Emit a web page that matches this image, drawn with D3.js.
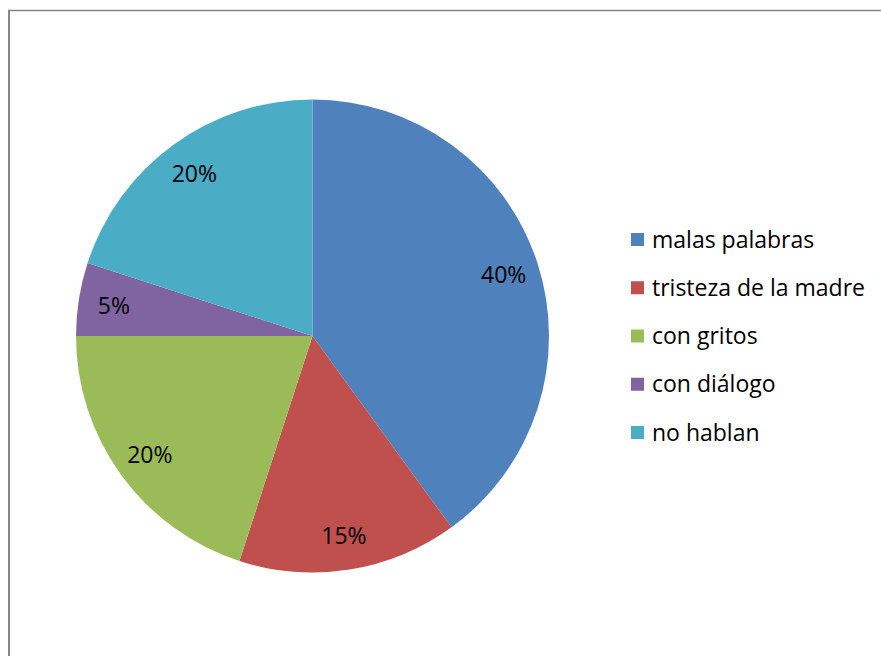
<!DOCTYPE html>
<html><head><meta charset="utf-8">
<script src="https://cdn.jsdelivr.net/npm/d3@7"></script>
<style>html,body{margin:0;padding:0;background:#fff;overflow:hidden}</style>
</head><body>
<svg id="chart" width="881" height="656"></svg>
<script>
const categories = ["malas palabras", "tristeza de la madre", "con gritos", "con diálogo", "no hablan"];
const values = [40, 15, 20, 5, 20];
const labels = ["40%", "15%", "20%", "5%", "20%"];
const colors = ["#4F81BD", "#C0504D", "#9BBB59", "#8064A2", "#4BACC6"];

const FONT = "'Open Sans', sans-serif";
const svg = d3.select("#chart");

// frame
svg.append("line").attr("x1", 9).attr("x2", 9).attr("y1", 10).attr("y2", 660)
  .attr("stroke", "#868686").attr("stroke-width", 2);
svg.append("line").attr("x1", 8).attr("x2", 890).attr("y1", 10.5).attr("y2", 10.5)
  .attr("stroke", "#868686").attr("stroke-width", 1.5);

const cx = 312.5, cy = 336, r = 236.5;
const pie = d3.pie().sort(null).value(d => d)(values);
const arc = d3.arc().innerRadius(0).outerRadius(r);
const labelArc = d3.arc().innerRadius(r * 0.85).outerRadius(r * 0.85);

const g = svg.append("g").attr("transform", `translate(${cx},${cy})`);
g.selectAll("path").data(pie).join("path")
  .attr("d", arc).attr("fill", (d, i) => colors[i]);

g.selectAll("text").data(pie).join("text")
  .attr("transform", d => `translate(${labelArc.centroid(d)})`)
  .attr("text-anchor", "middle").attr("dominant-baseline", "central")
  .attr("font-family", FONT).attr("font-size", 23).attr("fill", "#000")
  .text((d, i) => labels[i]);

// legend
const ly = d3.scalePoint().domain(categories).range([239.5, 432.5]);
const leg = svg.append("g");
const items = leg.selectAll("g").data(categories).join("g")
  .attr("transform", d => `translate(631,${ly(d)})`);
items.append("rect").attr("x", 0).attr("y", -6.5).attr("width", 13).attr("height", 13)
  .attr("fill", (d, i) => colors[i]);
items.append("text").attr("x", 21).attr("y", -1).attr("dominant-baseline", "central")
  .attr("font-family", FONT).attr("font-size", 23).attr("fill", "#000")
  .text(d => d);
</script>
</body></html>
